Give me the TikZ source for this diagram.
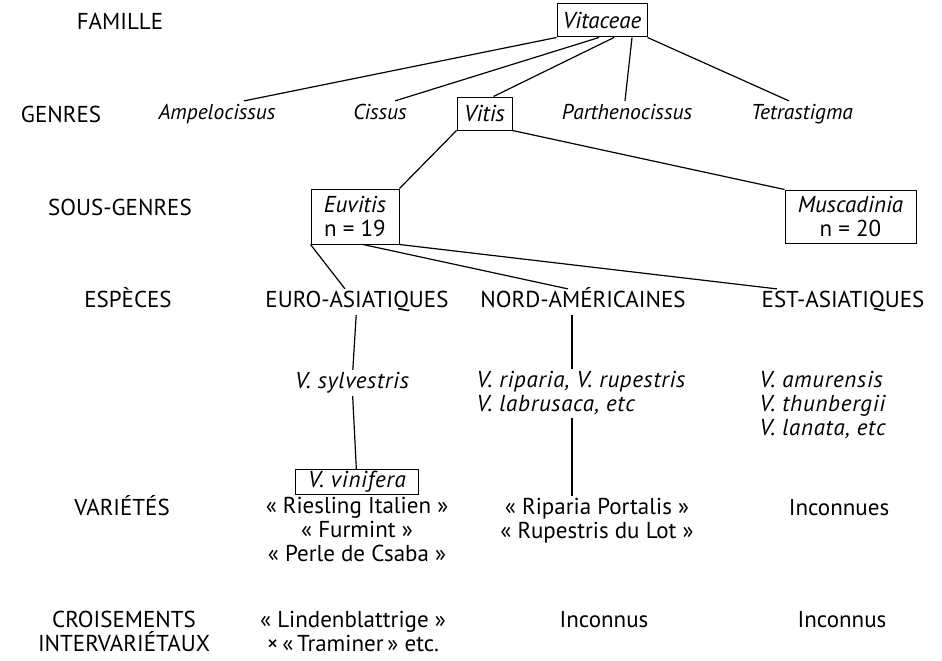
\documentclass[tikz,border=0pt]{standalone}
\usepackage{fontspec}
\setmainfont{PT Sans}
\usetikzlibrary{positioning}

\newcommand{\figfont}{\fontsize{23}{24}\selectfont}
\newcommand{\gx}{\fontsize{21.5}{24}\selectfont\itshape}
\newcommand{\tx}{\fontsize{23}{24}\selectfont\itshape}
\newcommand{\sx}{\tx\addfontfeatures{LetterSpace=3}}

\begin{document}
\begin{tikzpicture}[
  x=1pt, y=-1pt,
  font=\figfont,
  line width=1.2pt,
  one/.style={inner sep=2pt, text height=16pt, text depth=5pt},
  rank/.style={one},
  taxon/.style={one, font=\gx},
  spp/.style={inner sep=2pt, align=left, font=\sx},
  txt/.style={inner sep=2pt, align=center},
  box/.style={draw, line width=1pt, inner sep=0pt, align=center},
]
\useasboundingbox (0,0) rectangle (942,661);

% rank names down the left side
\node[rank] (lfam) at (120,24) {FAMILLE};
\node[rank] (lgen) at (61,117) {GENRES};
\node[rank] (lsgen) at (120,210) {SOUS-GENRES};
\node[rank] (lesp) at (128,302) {ESPÈCES};
\node[rank] (lvar) at (122,510) {VARIÉTÉS};
\node[txt, anchor=north] (lcro) at (124,609) {CROISEMENTS\\ INTERVARIÉTAUX};

% family and genera
\node[box, font=\tx, minimum width=90pt, minimum height=33pt] (vitaceae) at (602,20.5) {Vitaceae};
\node[taxon] (ampelo) at (217,114) {Ampelocissus};
\node[taxon] (cissus) at (380,114) {Cissus};
\node[box, font=\tx, minimum width=55pt, minimum height=33pt] (vitis) at (484.5,113.5) {Vitis};
\node[taxon] (partheno) at (627,114) {Parthenocissus};
\node[taxon] (tetra) at (802,114) {Tetrastigma};

% sub-genera
\node[box, minimum width=88pt, minimum height=55pt] (euvitis) at (355,216.5) {{\tx Euvitis}\\ n = 19};
\node[box, minimum width=131pt, minimum height=53pt] (musca) at (850.5,216.5) {{\tx Muscadinia}\\ n = 20};

% groups of species
\node[rank] (euro) at (357,302) {EURO-ASIATIQUES};
\node[rank] (nord) at (583,302) {NORD-AMÉRICAINES};
\node[rank] (est) at (843,302) {EST-ASIATIQUES};

\node[taxon, font=\sx] (sylv) at (352,383) {V. sylvestris};
\node[spp, anchor=north west] (ripa) at (474,369) {V. riparia, V. rupestris\\ V. labrusaca, etc};
\node[spp, anchor=north west] (amur) at (757,369) {V. amurensis\\ V. thunbergii\\ V. lanata, etc};

% varieties
\node[box, font=\sx, minimum width=123pt, minimum height=25pt] (vinif) at (357,482) {V. vinifera};
\node[txt, below=0pt of vinif] (euvar) {« Riesling Italien »\\ « Furmint »\\ « Perle de Csaba »};
\node[txt, anchor=north] (navar) at (597,496) {« Riparia Portalis »\\ « Rupestris du Lot »};
\node[one] (esvar) at (839,510) {Inconnues};

% crosses
\node[txt, anchor=north] (eucro) at (353,609) {« Lindenblattrige »\\ ×\,«\,Traminer\,» etc.};
\node[one] (nacro) at (604,622) {Inconnus};
\node[one] (escro) at (842,622) {Inconnus};

\coordinate (ncol) at (572,0);

\draw (vitaceae.south west) -- ([xshift=27pt]ampelo.north);
\draw ([xshift=-3pt]vitaceae.south) -- ([xshift=15pt]cissus.north);
\draw ([xshift=12pt]vitaceae.south) -- ([xshift=9pt]vitis.north);
\draw ([xshift=30pt]vitaceae.south) -- ([xshift=-2pt]partheno.north);
\draw (vitaceae.south east) -- ([xshift=-13pt]tetra.north);
\draw (vitis.south west) -- (euvitis.north east);
\draw (vitis.south east) -- (musca.north west);
\draw (euvitis.south west) -- ([xshift=-12pt]euro.north);
\draw ([xshift=8pt]euvitis.south) -- ([xshift=-15pt]nord.north);
\draw (euvitis.south east) -- ([xshift=-66pt]est.north);
\draw (euro) -- (sylv);
\draw (sylv) -- (vinif);
\draw (nord.south -| ncol) -- (ripa.north -| ncol);
\draw (ripa.south -| ncol) -- (navar.north -| ncol);
\end{tikzpicture}
\end{document}
